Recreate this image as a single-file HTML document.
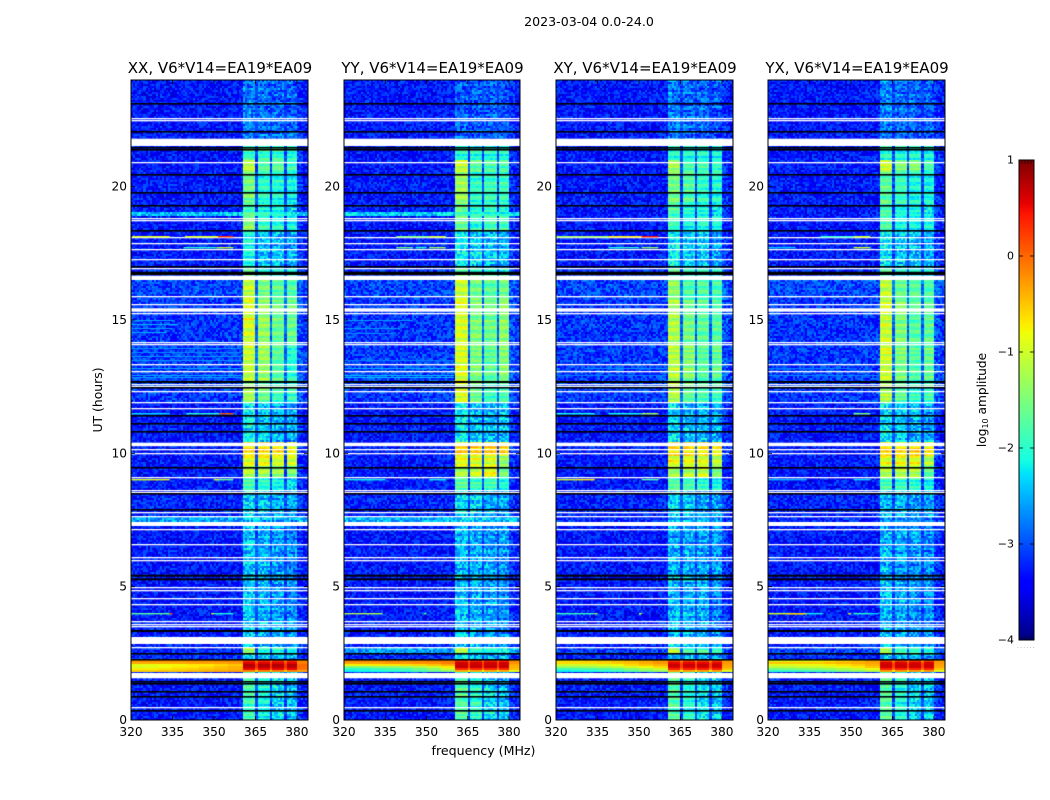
<!DOCTYPE html>
<html>
<head>
<meta charset="utf-8">
<title>Dynamic spectra 2023-03-04</title>
<style>
html,body{margin:0;padding:0;background:#fff;}
#figure{position:relative;width:1050px;height:800px;overflow:hidden;background:#fff;font-family:"DejaVu Sans","Liberation Sans",sans-serif;}
canvas{position:absolute;display:block;filter:blur(0.3px);}
#overlay{position:absolute;left:0;top:0;}
text{font-family:"DejaVu Sans","Liberation Sans",sans-serif;fill:#000;}
</style>
</head>
<body>
<div id="figure">
<svg id="overlay" width="1050" height="800" viewBox="0 0 1050 800">
  <text x="589" y="26" font-size="12.6" text-anchor="middle">2023-03-04 0.0-24.0</text>
  <text x="483.5" y="755" font-size="12.6" text-anchor="middle">frequency (MHz)</text>
  <text transform="translate(102,400) rotate(-90)" font-size="12.4" text-anchor="middle">UT (hours)</text>
  <text transform="translate(986,400) rotate(-90)" font-size="12.2" text-anchor="middle">log<tspan font-size="8" dy="2">10</tspan><tspan dy="-2"> amplitude</tspan></text>
  <text x="1017" y="648" font-size="6" letter-spacing="1.2" style="fill:#888">......</text>
</svg>
</div>
<script>
// ---------- axes data ----------
const panelTitles = ["XX, V6*V14=EA19*EA09","YY, V6*V14=EA19*EA09","XY, V6*V14=EA19*EA09","YX, V6*V14=EA19*EA09"];
const freqTicks = [320,335,350,365,380];
const utTicks = [0,5,10,15,20];
const colorbarTicks = [1,0,-1,-2,-3,-4];
const freqRangeMHz = [320,384];
const utRange = [0,24];
const colorRange = [-4,1];
const channelWidthMHz = 0.75;
const rowHeightUT = 0.075;
const subbandEdgesMHz = [[360.5,364.8],[365.7,370],[371,375.5],[376,380.3]];

// ---------- time segments (hours UT) ----------
const segmentEdgesUT = [0,1.763,2.25,2.5,2.72,3.15,5.438,7.425,7.65,8.625,9.1,9.5,9.9,10.425,11.925,12.713,14.063,15.75,16.5,16.95,18.375,18.863,19.013,19.313,20.55,21.0,21.525,24];

// log10 amplitude per segment: background, then four sub-bands
const xxLevels = [
[-3.3,-1.85,-2.15,-2.3,-2.4],[-3.3,-1,-1,-1,-1],[-3.2,-2.3,-2.4,-2.5,-2.5],[-3.2,-1.2,-1.95,-1.9,-2.0],[-3.2,-2.35,-2.45,-2.55,-2.55],
[-3.3,-2.4,-2.55,-2.6,-2.7],[-3.3,-2.45,-2.55,-2.65,-2.7],[-2.55,-2.35,-2.45,-2.45,-2.55],[-3.25,-2.3,-2.4,-2.55,-2.6],
[-3.3,-1.85,-2.05,-2.15,-2.3],[-3.3,-1.15,-1.25,-1.35,-1.5],[-3.3,-0.9,-0.9,-1.0,-1.05],[-3.3,-0.6,-0.6,-0.6,-0.75],
[-3.3,-2.2,-2.35,-2.5,-2.55],[-3.1,-1.3,-1.6,-1.9,-1.9],[-3.1,-1.05,-1.3,-1.7,-2.0],[-3.15,-0.95,-1.35,-1.6,-1.6],[-3.05,-1.05,-1.5,-1.7,-1.7],
[-3.2,-1.5,-1.9,-2.0,-2.0],[-3.3,-2.1,-2.45,-2.45,-2.6],[-3.3,-1.4,-1.9,-2.0,-2.1],[-2.4,-1.7,-2.0,-2.1,-2.2],[-3.3,-1.9,-2.1,-2.1,-2.3],
[-3.3,-1.55,-2.0,-2.05,-2.15],[-3.3,-1.1,-1.7,-1.7,-1.85],[-3.3,-1.9,-1.9,-1.9,-2.0],[-3.3,-2.75,-2.85,-2.85,-2.9]];
const yyLevels = [
[-3.3,-1.75,-2.0,-2.3,-2.45],[-3.3,-1,-1,-1,-1],[-3.2,-2.2,-2.4,-2.5,-2.5],[-2.6,-1.2,-2.0,-2.1,-2.2],[-3.2,-2.35,-2.45,-2.55,-2.55],
[-3.3,-2.4,-2.5,-2.6,-2.7],[-3.3,-2.45,-2.5,-2.6,-2.65],[-2.5,-2.4,-2.45,-2.5,-2.55],[-3.25,-2.3,-2.35,-2.55,-2.55],
[-3.3,-1.75,-1.9,-1.9,-2.1],[-3.3,-1.2,-1.05,-0.85,-1.55],[-3.3,-0.85,-1.0,-1.0,-1.4],[-3.3,-0.55,-0.55,-0.55,-0.6],
[-3.3,-2.2,-2.4,-2.45,-2.45],[-3.1,-0.95,-1.6,-1.9,-1.8],[-3.1,-0.95,-1.5,-1.7,-1.45],[-3.15,-0.95,-1.5,-1.6,-1.4],[-3.05,-1.05,-1.55,-1.7,-1.6],
[-3.2,-1.6,-1.8,-2.0,-2.0],[-3.3,-2.2,-2.3,-2.4,-2.5],[-3.3,-1.6,-2.0,-1.85,-1.85],[-2.35,-1.8,-2.0,-2.0,-2.1],[-3.3,-1.7,-2.1,-2.0,-2.1],
[-3.3,-1.3,-1.95,-1.9,-1.9],[-3.3,-1.1,-1.7,-1.8,-1.85],[-3.3,-2.0,-2.0,-2.0,-2.0],[-3.3,-2.9,-2.95,-2.95,-3.0]];
const xyLevels = [
[-3.3,-1.75,-2.0,-2.25,-2.4],[-3.3,-1,-1,-1,-1],[-3.25,-2.3,-2.35,-2.5,-2.5],[-3.1,-1.2,-1.85,-1.85,-2.0],[-3.25,-2.35,-2.45,-2.55,-2.55],
[-3.3,-2.45,-2.5,-2.55,-2.7],[-3.3,-2.5,-2.55,-2.6,-2.65],[-3.2,-2.4,-2.5,-2.5,-2.6],[-3.25,-2.35,-2.4,-2.55,-2.55],
[-3.3,-1.75,-1.85,-2.0,-2.1],[-3.3,-1.25,-1.15,-1.05,-1.5],[-3.3,-0.85,-0.85,-0.95,-1.15],[-3.3,-0.65,-0.65,-0.7,-0.8],
[-3.3,-2.25,-2.45,-2.45,-2.55],[-3.1,-1.2,-1.7,-1.85,-1.9],[-3.1,-1.15,-1.45,-1.75,-1.65],[-3.15,-1.2,-1.55,-1.7,-1.75],[-3.05,-1.35,-1.75,-1.75,-1.85],
[-3.2,-1.7,-2.0,-2.0,-2.1],[-3.3,-2.2,-2.4,-2.4,-2.55],[-3.3,-1.85,-2.1,-2.0,-2.1],[-3.3,-1.9,-2.1,-2.1,-2.2],[-3.3,-1.8,-2.1,-2.1,-2.2],
[-3.3,-1.55,-1.75,-1.95,-2.05],[-3.3,-1.25,-1.8,-1.85,-1.95],[-3.3,-2.0,-2.05,-2.05,-2.1],[-3.3,-2.75,-2.85,-2.9,-3.0]];
const yxLevels = [
[-3.3,-1.75,-2.05,-2.3,-2.4],[-3.3,-1,-1,-1,-1],[-3.25,-2.3,-2.4,-2.5,-2.55],[-3.1,-1.2,-1.85,-1.9,-2.0],[-3.25,-2.35,-2.45,-2.55,-2.55],
[-3.3,-2.45,-2.55,-2.65,-2.7],[-3.3,-2.5,-2.6,-2.65,-2.7],[-3.2,-2.45,-2.5,-2.6,-2.65],[-3.25,-2.4,-2.45,-2.6,-2.6],
[-3.3,-1.8,-1.9,-1.95,-2.15],[-3.3,-1.2,-1.15,-1.15,-1.7],[-3.3,-0.9,-0.85,-0.85,-1.2],[-3.3,-0.6,-0.65,-0.55,-0.7],
[-3.3,-2.25,-2.4,-2.5,-2.55],[-3.1,-1.2,-1.65,-1.95,-1.85],[-3.1,-1.0,-1.5,-1.75,-1.65],[-3.15,-1.05,-1.5,-1.75,-1.7],[-3.05,-1.1,-1.65,-1.75,-1.8],
[-3.2,-1.65,-2.0,-2.0,-2.1],[-3.3,-2.2,-2.4,-2.45,-2.55],[-3.3,-1.75,-2.05,-2.1,-2.1],[-3.3,-1.85,-2.1,-2.15,-2.2],[-3.3,-1.85,-2.15,-2.15,-2.2],
[-3.3,-1.7,-1.9,-2.05,-2.1],[-3.3,-1.05,-1.55,-1.55,-1.85],[-3.3,-2.0,-2.05,-2.05,-2.1],[-3.3,-2.75,-2.85,-2.9,-2.95]];

// Hot calibration band, rows listed from top of band downward.
// Each row: levels for 320,325,...,355 MHz, in-band level, level above the band.
const hotBandTopUT = 2.25;
const hotBandBottomUT = 1.763;
const xxHotRows = [
[-0.25,-0.25,-0.25,-0.25,-0.25,-0.25,-0.2,-0.2,0.3,-0.2],
[-0.35,-0.35,-0.35,-0.35,-0.3,-0.3,-0.3,-0.25,0.6,-0.1],
[-0.85,-0.85,-0.8,-0.8,-0.7,-0.7,-0.6,-0.5,0.75,0.0],
[-0.95,-0.9,-0.8,-0.7,-0.7,-0.6,-0.5,-0.4,0.75,0.0],
[-0.7,-0.7,-0.65,-0.6,-0.55,-0.5,-0.45,-0.4,0.5,-0.05],
[-0.55,-0.55,-0.5,-0.5,-0.45,-0.4,-0.35,-0.3,-0.1,-0.3]];
const yyHotRows = [
[-0.2,-0.2,-0.2,-0.2,-0.2,-0.2,-0.15,-0.15,0.4,-0.2],
[-0.3,-0.3,-0.3,-0.25,-0.25,-0.2,-0.2,-0.1,0.65,-0.2],
[-0.75,-0.75,-0.7,-0.7,-0.65,-0.6,-0.5,-0.35,0.7,-0.35],
[-1.5,-1.5,-1.4,-1.4,-1.3,-1.2,-1.0,-0.7,0.65,-0.4],
[-2.0,-2.0,-1.9,-1.8,-1.8,-1.6,-1.4,-1.0,0.35,-0.45],
[-2.2,-2.15,-2.1,-2.0,-1.95,-1.8,-1.6,-1.4,-0.4,-0.85]];
const xyHotRows = [
[-0.7,-0.7,-0.65,-0.6,-0.55,-0.5,-0.4,-0.3,0.2,-0.3],
[-0.6,-0.6,-0.6,-0.55,-0.5,-0.45,-0.35,-0.25,0.6,-0.25],
[-1.0,-1.0,-1.0,-0.9,-0.8,-0.6,-0.5,-0.4,0.7,-0.3],
[-1.3,-1.3,-1.25,-1.2,-1.1,-0.95,-0.8,-0.6,0.65,-0.35],
[-1.9,-1.85,-1.8,-1.7,-1.6,-1.4,-1.2,-1.0,0.35,-0.5],
[-2.2,-2.15,-2.1,-2.0,-1.9,-1.7,-1.5,-1.3,-0.3,-0.9]];
const yxHotRows = [
[-0.85,-0.85,-0.85,-0.8,-0.7,-0.6,-0.5,-0.35,0.2,-0.3],
[-0.5,-0.5,-0.5,-0.5,-0.45,-0.4,-0.35,-0.3,0.6,-0.25],
[-0.9,-0.9,-0.85,-0.85,-0.75,-0.65,-0.55,-0.4,0.7,-0.3],
[-1.1,-1.1,-1.05,-1.0,-0.95,-0.85,-0.7,-0.5,0.65,-0.35],
[-1.55,-1.5,-1.45,-1.4,-1.3,-1.2,-1.05,-0.85,0.4,-0.5],
[-2.0,-1.95,-1.9,-1.8,-1.7,-1.5,-1.35,-1.15,-0.3,-0.9]];

// Flagged integrations, hours UT
const whiteLinesUT = [22.556,22.474,20.914,18.814,18.713,18.101,17.876,17.651,17.25,16.939,15.863,15.563,15.225,14.164,14.063,13.339,13.076,12.589,12.499,12.3,11.914,11.689,10.151,10.001,9.101,8.614,8.539,7.774,7.639,7.151,6.589,6.101,5.989,4.961,4.864,4.564,4.339,3.686,3.581,3.488,2.726,0.476];
const whiteBandsUT = [[21.525,21.799],[16.5,16.661],[15.311,15.439],[10.268,10.399],[7.275,7.425],[2.85,3.113],[1.564,1.763]];
const blackLinesUT = [23.089,22.039,21.476,21.375,20.438,19.77,19.275,18.349,17.006,12.439,11.4,11.089,10.789,9.461,8.464,7.886,2.501,2.25,1.425,1.35,1.039,0.863,0.349];
const blackBandsUT = [[16.688,16.811],[12.638,12.713],[5.374,5.449],[5.239,5.314],[3.3,3.375]];

// Narrow-band interference: [UT, start MHz, end MHz, log10 amplitude]
const xxRfi = [[18.11,320.4,334,-0.9],[18.11,339.5,351.5,-0.9],[18.11,351.5,357,0.35],[17.7,339,351,-2.0],[17.7,351,357,-1.1],[11.5,320,334,-2.3],[11.5,340,352,-2.0],[11.5,352,357,0.1],[9.0,320,334,-0.9],[9.0,350,352,-1.0],[9.0,352,357,-1.7],[4.0,320,334,-1.7],[4.0,334,335,0.2],[4.0,349,350,-0.9],[4.0,350,357,-2.1]];
const yyRfi = [[18.11,339,351,-1.5],[18.11,351,357,-1.0],[17.7,339,345,-1.6],[17.7,346,350,-2.0],[17.7,351,357,-1.3],[9.0,320,335,-2.2],[9.0,351,357,-2.2],[4.0,320,334,-1.2],[4.0,349,350,-1.7]];
const xyRfi = [[18.11,320,339,-1.3],[18.11,339,351,-0.7],[18.11,351,357,0.5],[17.7,339,350,-2.0],[17.7,351,357,-1.4],[11.5,320,334,-2.1],[11.5,339,351,-2.1],[11.5,351,357,-1.2],[9.0,320,327,-1.0],[9.0,327,334,-0.7],[9.0,351,357,-1.8],[4.0,320,334,-1.9],[4.0,334,335,-1.2],[4.0,350,351,-1.0]];
const yxRfi = [[18.11,339,351,-2.0],[18.11,351,357,-1.0],[17.7,320,330,-2.4],[17.7,351,357,-1.0],[11.5,351,357,-1.5],[9.0,320,334,-2.5],[9.0,351,357,-2.3],[4.0,320,334,-0.9],[4.0,327,333,-0.55],[4.0,334,340,-2.2],[4.0,349,350,-0.8],[4.0,351,357,-2.0],[4.0,357,360,-2.3]];

// Faint broadband streaks seen in the two parallel hands: [UT, start MHz, end MHz, log10 amplitude]
const xxStreaks = [[15.0,320,335,-2.55],[14.85,320,337,-2.5],[14.7,320,335,-2.6],[14.55,320,333,-2.55],[13.95,320,360,-2.65],[13.8,320,360,-2.7],[13.65,320,360,-2.6],[13.5,320,360,-2.65],[13.2,320,360,-2.55],[12.95,320,360,-2.55],[12.85,320,360,-2.6]];
const yyStreaks = [[15.0,320,345,-2.6],[14.7,320,340,-2.65],[14.5,320,338,-2.7],[13.5,320,360,-2.75],[13.2,320,360,-2.5],[12.95,320,360,-2.45],[12.85,320,360,-2.45]];
const xyStreaks = [[13.2,330,360,-2.65],[12.95,320,360,-2.75]];
const yxStreaks = [[13.2,320,350,-2.75],[12.95,320,360,-2.7]];

const grainTile = [0.12,-0.28,0.31,-0.05,0.22,-0.36,0.08,0.27,-0.18,0.02,-0.31,0.34,-0.11,0.17,-0.24,0.29,-0.02,-0.39,0.14,0.24,-0.15,0.05,0.37,-0.26,-0.08,0.19,-0.33,0.1,0.28,-0.21,-0.01,0.33,-0.13,-0.29,0.16,0.07,-0.35,0.25,-0.06,0.21,-0.19,0.32,0.01,-0.25,0.11,-0.38,0.26,-0.1,0.18,0.04,-0.3,0.35,-0.16,0.09,-0.23,0.3,-0.04,-0.34,0.2,0.13,-0.12];
// Integration-to-integration gain scatter inside the band
const rowGainTile = [0.05,-0.12,0.1,-0.03,0.14,-0.09,0.02,-0.16,0.08,0.12,-0.06,-0.14,0.04,0.11,-0.1,0.0,0.15,-0.07,-0.13,0.07,0.03,-0.11,0.09];

// ---------- scales ----------
const panelLefts = [131,344,556,768];
const panelWidths = [177,176,177,177];
const panelTop = 80;
const panelHeight = 640;
const allLevels = [xxLevels,yyLevels,xyLevels,yxLevels];
const allHotRows = [xxHotRows,yyHotRows,xyHotRows,yxHotRows];
const allRfi = [xxRfi,yyRfi,xyRfi,yxRfi];
const allStreaks = [xxStreaks,yyStreaks,xyStreaks,yxStreaks];
const panelNames = ['xx','yy','xy','yx'];

function xScale(mhz, w){ return (mhz-freqRangeMHz[0])/(freqRangeMHz[1]-freqRangeMHz[0])*w; }
function yScale(ut){ return panelHeight-(ut-utRange[0])/(utRange[1]-utRange[0])*panelHeight; }
function seg(t, c0, c1){ return t<=0?c0:t>=1?c1:c0+(c1-c0)*t; }
function jetChannel(x, stops){
  for(let i=1;i<stops.length;i++){
    if(x<=stops[i][0]){ return seg((x-stops[i-1][0])/(stops[i][0]-stops[i-1][0]),stops[i-1][1],stops[i][1]); }
  }
  return stops[stops.length-1][1];
}
const jetRed = [[0,0],[0.35,0],[0.66,1],[0.89,1],[1,0.5]];
const jetGreen = [[0,0],[0.125,0],[0.375,1],[0.64,1],[0.91,0],[1,0]];
const jetBlue = [[0,0.5],[0.11,1],[0.34,1],[0.65,0],[1,0]];
function colorOf(v){
  const x=Math.max(0,Math.min(1,(v-colorRange[0])/(colorRange[1]-colorRange[0])));
  return 'rgb('+Math.round(255*jetChannel(x,jetRed))+','+Math.round(255*jetChannel(x,jetGreen))+','+Math.round(255*jetChannel(x,jetBlue))+')';
}
function segmentIndex(ut){
  for(let i=0;i<segmentEdgesUT.length-1;i++){ if(ut<segmentEdgesUT[i+1]) return i; }
  return segmentEdgesUT.length-2;
}
function subbandIndex(f){
  for(let i=0;i<subbandEdgesMHz.length;i++){ if(f>=subbandEdgesMHz[i][0]&&f<subbandEdgesMHz[i][1]) return i; }
  return -1;
}
function cellLevel(p, ut, f, r, c){
  const g=grainTile[(r*r*r*3+c*c*c*5+r*c*11+r*23+c*41+p*17)%grainTile.length];
  const stripe=rowGainTile[(r+p)%rowGainTile.length];
  const sb=subbandIndex(f);
  const inHot=ut>=hotBandBottomUT&&ut<hotBandTopUT;
  if(inHot){
    const rows=allHotRows[p];
    const idx=Math.min(rows.length-1,Math.floor((hotBandTopUT-ut)/(hotBandTopUT-hotBandBottomUT)*rows.length));
    const row=rows[idx];
    if(sb>=0) return row[8]+stripe*0.3;
    if(f>=subbandEdgesMHz[0][0]&&f<subbandEdgesMHz[3][1]) return row[8]-0.45;
    if(f>=subbandEdgesMHz[3][1]) return row[9];
    return row[Math.min(7,Math.floor((f-320)/5))];
  }
  const lv=allLevels[p][segmentIndex(ut)];
  if(sb>=0){
    const faint=lv[sb+1]<-2.15;
    return lv[sb+1]+g*(faint?1.1:0.4)+stripe*(faint?1:1.6);
  }
  if(f>=subbandEdgesMHz[0][0]&&f<subbandEdgesMHz[3][1]) return lv[0]+0.25+g*0.6;
  if(f>=subbandEdgesMHz[3][1]&&f<382) return lv[0]+0.15+g;
  return lv[0]+g;
}

// ---------- draw ----------
const figure=document.getElementById('figure');
const overlay=document.getElementById('overlay');
const SVGNS='http://www.w3.org/2000/svg';

function drawPanel(p){
  const left=panelLefts[p], w=panelWidths[p];
  const cv=document.createElement('canvas');
  
  
  cv.width=w; cv.height=panelHeight;
  cv.style.left=left+'px'; cv.style.top=panelTop+'px';
  figure.insertBefore(cv,overlay);
  const ctx=cv.getContext('2d');
  const nRows=Math.round((utRange[1]-utRange[0])/rowHeightUT);
  const nCh=Math.ceil((freqRangeMHz[1]-freqRangeMHz[0])/channelWidthMHz);
  for(let r=0;r<nRows;r++){
    const ut=(r+0.5)*rowHeightUT;
    const y1=Math.round(yScale(r*rowHeightUT)), y0=Math.round(yScale((r+1)*rowHeightUT));
    for(let c=0;c<nCh;c++){
      const f=freqRangeMHz[0]+(c+0.5)*channelWidthMHz;
      const x0=Math.round(xScale(freqRangeMHz[0]+c*channelWidthMHz,w));
      const x1=Math.round(xScale(freqRangeMHz[0]+(c+1)*channelWidthMHz,w));
      ctx.fillStyle=colorOf(cellLevel(p,ut,f,r,c));
      ctx.fillRect(x0,y0,x1-x0,y1-y0);
    }
  }
  // faint streaks
  allStreaks[p].forEach(function(s){
    ctx.fillStyle=colorOf(s[3]);
    ctx.fillRect(xScale(s[1],w),Math.round(yScale(s[0])),xScale(s[2],w)-xScale(s[1],w),1);
  });
  // flags
  ctx.fillStyle='#fff';
  whiteBandsUT.forEach(function(b){ ctx.fillRect(0,yScale(b[1]),w,yScale(b[0])-yScale(b[1])); });
  whiteLinesUT.forEach(function(u){ ctx.fillRect(0,Math.round(yScale(u)-0.65),w,1.3); });
  ctx.fillStyle='#000';
  blackBandsUT.forEach(function(b){ ctx.fillRect(0,yScale(b[1]),w,yScale(b[0])-yScale(b[1])); });
  blackLinesUT.forEach(function(u){ ctx.fillRect(0,Math.round(yScale(u)-0.8),w,1.6); });
  // interference
  allRfi[p].forEach(function(s){
    ctx.fillStyle=colorOf(s[3]);
    ctx.fillRect(xScale(s[1],w),Math.round(yScale(s[0])-0.75),xScale(s[2],w)-xScale(s[1],w),1.4);
  });

  // frame
  const frame=document.createElementNS(SVGNS,'rect');
  
  
  frame.setAttribute('x',left); frame.setAttribute('y',panelTop);
  frame.setAttribute('width',w); frame.setAttribute('height',panelHeight);
  frame.setAttribute('fill','none'); frame.setAttribute('stroke','#000'); frame.setAttribute('stroke-width','1');
  overlay.appendChild(frame);

  // title
  const title=document.createElementNS(SVGNS,'text');
  
  
  title.setAttribute('x',left+w/2+0.5); title.setAttribute('y',73);
  title.setAttribute('font-size','15'); title.setAttribute('text-anchor','middle');
  title.textContent=panelTitles[p];
  overlay.appendChild(title);

  // x ticks
  freqTicks.forEach(function(t){
    const x=left+xScale(t,w);
    [[panelTop,panelTop+4],[panelTop+panelHeight-4,panelTop+panelHeight]].forEach(function(yy){
      const tk=document.createElementNS(SVGNS,'line');
      
      
      tk.setAttribute('x1',x); tk.setAttribute('x2',x); tk.setAttribute('y1',yy[0]); tk.setAttribute('y2',yy[1]);
      tk.setAttribute('stroke','#000'); tk.setAttribute('stroke-width','0.8');
      overlay.appendChild(tk);
    });
    const lb=document.createElementNS(SVGNS,'text');
    
    
    lb.setAttribute('x',x); lb.setAttribute('y',736);
    lb.setAttribute('font-size','12.2'); lb.setAttribute('text-anchor','middle');
    lb.textContent=String(t);
    overlay.appendChild(lb);
  });
  // y ticks
  utTicks.forEach(function(t){
    const y=panelTop+yScale(t);
    [[left,left+4],[left+w-4,left+w]].forEach(function(xx){
      const tk=document.createElementNS(SVGNS,'line');
      
      
      tk.setAttribute('x1',xx[0]); tk.setAttribute('x2',xx[1]); tk.setAttribute('y1',y); tk.setAttribute('y2',y);
      tk.setAttribute('stroke','#000'); tk.setAttribute('stroke-width','0.8');
      overlay.appendChild(tk);
    });
    const lb=document.createElementNS(SVGNS,'text');
    
    
    lb.setAttribute('x',left-4); lb.setAttribute('y',y+4);
    lb.setAttribute('font-size','12.2'); lb.setAttribute('text-anchor','end');
    lb.textContent=String(t);
    overlay.appendChild(lb);
  });
}
[0,1,2,3].forEach(drawPanel);

// ---------- colorbar ----------
(function(){
  const left=1019, width=15, top=160, height=480, steps=256;
  function cbY(v){ return top+(colorRange[1]-v)/(colorRange[1]-colorRange[0])*height; }
  for(let i=0;i<steps;i++){
    const v0=colorRange[0]+i/steps*(colorRange[1]-colorRange[0]);
    const v1=colorRange[0]+(i+1)/steps*(colorRange[1]-colorRange[0]);
    const rc=document.createElementNS(SVGNS,'rect');
    
    
    rc.setAttribute('x',left); rc.setAttribute('width',width);
    rc.setAttribute('y',cbY(v1)); rc.setAttribute('height',cbY(v0)-cbY(v1)+0.5);
    rc.setAttribute('fill',colorOf((v0+v1)/2));
    overlay.appendChild(rc);
  }
  const frame=document.createElementNS(SVGNS,'rect');
  
  
  frame.setAttribute('x',left); frame.setAttribute('y',top); frame.setAttribute('width',width); frame.setAttribute('height',height);
  frame.setAttribute('fill','none'); frame.setAttribute('stroke','#000'); frame.setAttribute('stroke-width','1');
  overlay.appendChild(frame);
  colorbarTicks.forEach(function(t){
    const y=cbY(t);
    [[left,left+4],[left+width-4,left+width]].forEach(function(xx){
      const tk=document.createElementNS(SVGNS,'line');
      
      
      tk.setAttribute('x1',xx[0]); tk.setAttribute('x2',xx[1]); tk.setAttribute('y1',y); tk.setAttribute('y2',y);
      tk.setAttribute('stroke','#000'); tk.setAttribute('stroke-width','0.8');
      overlay.appendChild(tk);
    });
    const lb=document.createElementNS(SVGNS,'text');
    
    
    lb.setAttribute('x',left-5); lb.setAttribute('y',y+3.5);
    lb.setAttribute('font-size','11'); lb.setAttribute('text-anchor','end');
    lb.textContent=(t<0?'\u2212':'')+Math.abs(t);
    overlay.appendChild(lb);
  });
  [0,3,6,9,12,15].forEach(function(dx){
    [[top,top+4],[top+height-4,top+height]].forEach(function(yy){
      const tk=document.createElementNS(SVGNS,'line');
      
      
      tk.setAttribute('x1',left+dx); tk.setAttribute('x2',left+dx); tk.setAttribute('y1',yy[0]); tk.setAttribute('y2',yy[1]);
      tk.setAttribute('stroke','#000'); tk.setAttribute('stroke-width','0.6');
      overlay.appendChild(tk);
    });
  });
})();
</script>
</body>
</html>
